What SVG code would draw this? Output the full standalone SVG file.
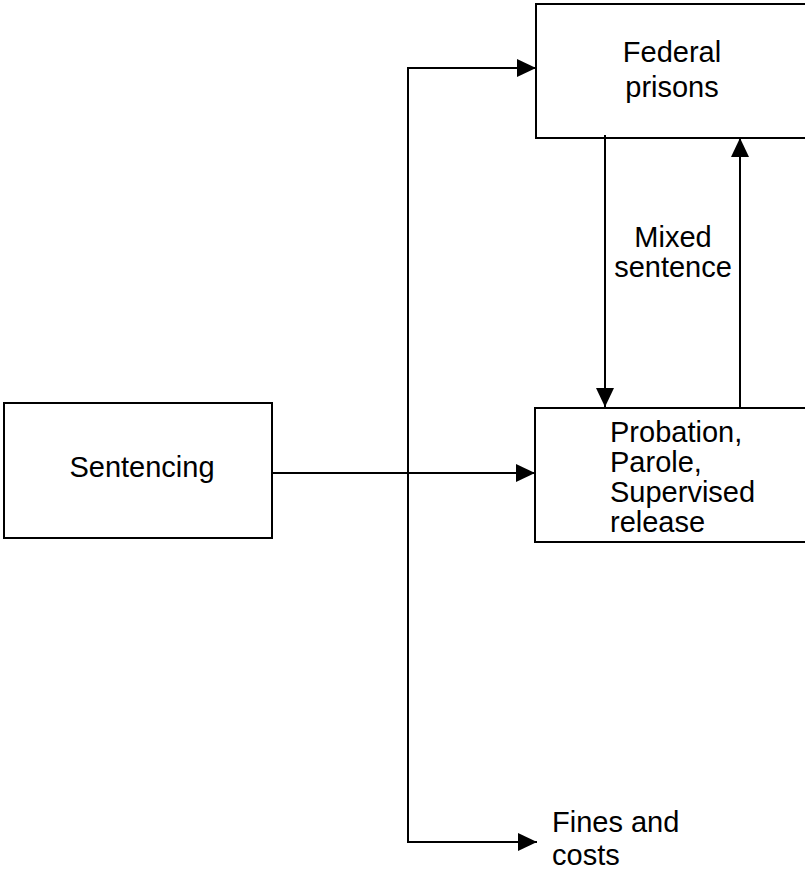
<svg xmlns="http://www.w3.org/2000/svg" width="805" height="873" viewBox="0 0 805 873">
  <defs>
    <marker id="arrow" markerUnits="userSpaceOnUse" markerWidth="19" markerHeight="18" viewBox="0 0 19 18" refX="19" refY="9" orient="auto">
      <path d="M0,0 L19,9 L0,18 Z" fill="#000"/>
    </marker>
  </defs>
  <style>
    .box { fill: #fff; stroke: #000; stroke-width: 2; }
    .lbl { font-family: "Liberation Sans", Arial, sans-serif; font-size: 29px; fill: #000; }
    .conn { fill: none; stroke: #000; stroke-width: 2; }
  </style>
  <rect width="805" height="873" fill="#fff"/>
  <g id="federal-prisons">
    <rect class="box" x="536" y="4" width="290" height="134"/>
    <text class="lbl" x="672" y="62" text-anchor="middle">Federal</text>
    <text class="lbl" x="672" y="97" text-anchor="middle">prisons</text>
  </g>
  <g id="sentencing">
    <rect class="box" x="4" y="403" width="268" height="135"/>
    <text class="lbl" x="142" y="477" text-anchor="middle">Sentencing</text>
  </g>
  <g id="probation">
    <rect class="box" x="535" y="408" width="290" height="134"/>
    <text class="lbl" x="610" y="442">Probation,</text>
    <text class="lbl" x="610" y="472">Parole,</text>
    <text class="lbl" x="610" y="502">Supervised</text>
    <text class="lbl" x="610" y="532">release</text>
  </g>
  <g id="fines-and-costs">
    <text class="lbl" x="552" y="832">Fines and</text>
    <text class="lbl" x="552" y="865">costs</text>
  </g>
  <g id="mixed-sentence-label">
    <text class="lbl" x="673" y="247" text-anchor="middle">Mixed</text>
    <text class="lbl" x="673" y="277" text-anchor="middle">sentence</text>
  </g>
  <g id="connectors">
    <path class="conn" d="M272,473 H535" marker-end="url(#arrow)"/>
    <path class="conn" d="M408,473 V68 H536" marker-end="url(#arrow)"/>
    <path class="conn" d="M408,473 V842 H537" marker-end="url(#arrow)"/>
    <path class="conn" d="M605,135 V407" marker-end="url(#arrow)"/>
    <path class="conn" d="M740,408 V138" marker-end="url(#arrow)"/>
  </g>
</svg>
